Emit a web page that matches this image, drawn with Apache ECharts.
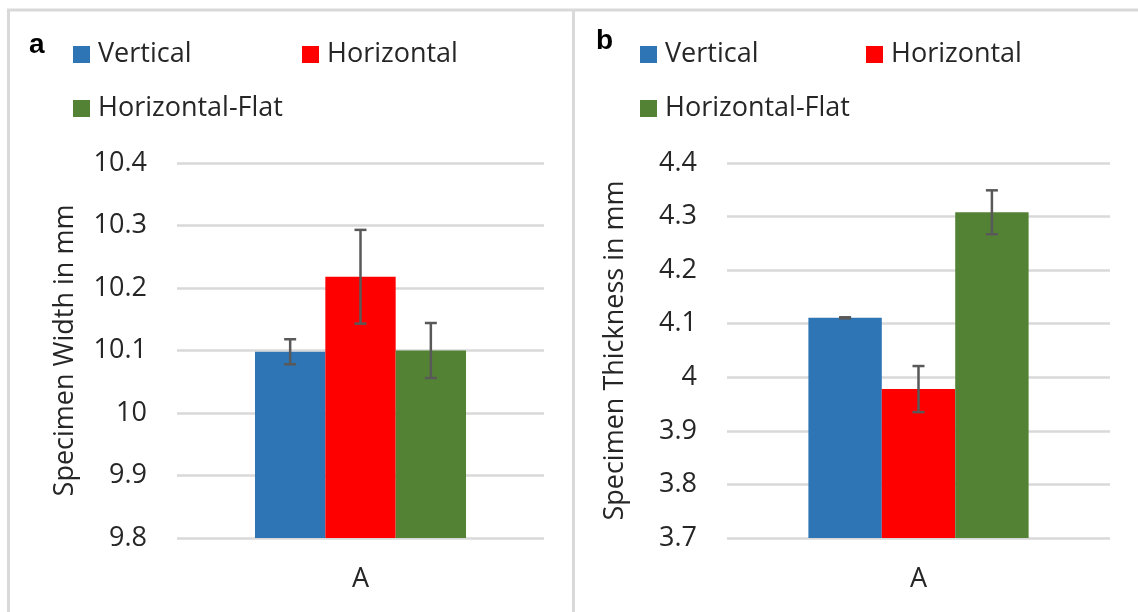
<!DOCTYPE html>
<html>
<head>
<meta charset="utf-8">
<script src="https://cdn.jsdelivr.net/npm/echarts@6/dist/echarts.min.js"></script>
<style>html,body{margin:0;padding:0;background:#fff;}#c{width:1138px;height:612px;}</style>
</head>
<body>
<div id="c"></div>
<script>
const categories = ['A'];
const seriesNames = ['Vertical', 'Horizontal', 'Horizontal-Flat'];
const colors = ['#2e75b6', '#ff0000', '#548235'];
const widthMean = [10.098, 10.218, 10.100];
const widthErr = [0.020, 0.075, 0.044];
const thickMean = [4.111, 3.978, 4.308];
const thickErr = [0.001, 0.043, 0.041];
const widthTicks = { min: 9.8, max: 10.4, interval: 0.1 };
const thickTicks = { min: 3.7, max: 4.4, interval: 0.1 };

const FONT = 'Open Sans';
const FS = 27;
const GAP = 0.425;
const chart = echarts.init(document.getElementById('c'));

function errSeries(gridIdx, means, errs) {
  return seriesNames.map((n, si) => ({
    type: 'custom',
    xAxisIndex: gridIdx, yAxisIndex: gridIdx,
    z: 10, silent: true,
    data: categories.map((c, ci) => [ci, means[si], errs[si]]),
    renderItem: function (params, api) {
      const ci = api.value(0), m = api.value(1), e = api.value(2);
      const band = api.size([1, 0])[0];
      const bw = band * (1 - GAP) / 3;
      const center = api.coord([ci, m])[0];
      const x = center + (si - 1) * bw;
      const yt = api.coord([ci, m + e])[1];
      const yb = api.coord([ci, m - e])[1];
      const hw = 6;
      const st = { stroke: '#595959', lineWidth: 2.5 };
      return { type: 'group', children: [
        { type: 'line', shape: { x1: x, y1: yt, x2: x, y2: yb }, style: st },
        { type: 'line', shape: { x1: x - hw, y1: yt, x2: x + hw, y2: yt }, style: st },
        { type: 'line', shape: { x1: x - hw, y1: yb, x2: x + hw, y2: yb }, style: st }
      ]};
    }
  }));
}

function barSeries(gridIdx, means) {
  return seriesNames.map((n, si) => ({
    name: n, type: 'bar',
    xAxisIndex: gridIdx, yAxisIndex: gridIdx,
    barGap: '0%', barCategoryGap: (GAP * 100) + '%',
    itemStyle: { color: colors[si] },
    data: categories.map(() => means[si])
  }));
}

function legendItem(name, left, top) {
  return {
    data: [name], left: left, top: top, padding: 0,
    itemWidth: 17, itemHeight: 17, icon: 'rect',
    textStyle: { fontFamily: FONT, fontSize: FS, color: '#262626', padding: [0, 0, 0, 3] },
    selectedMode: false
  };
}

function yAxis(gridIdx, t, name) {
  return {
    type: 'value', gridIndex: gridIdx,
    min: t.min, max: t.max, interval: t.interval,
    name: name, nameLocation: 'middle', nameGap: 98,
    nameTextStyle: { fontFamily: FONT, fontSize: FS, color: '#262626' },
    axisLine: { show: false }, axisTick: { show: false },
    axisLabel: { fontFamily: FONT, fontSize: FS, color: '#262626', margin: 30,
      formatter: v => String(Math.round(v * 10) / 10) },
    splitLine: { lineStyle: { color: '#d9d9d9', width: 2.5 } }
  };
}

function xAxis(gridIdx) {
  return {
    type: 'category', gridIndex: gridIdx, data: categories,
    axisLine: { show: false }, axisTick: { show: false },
    axisLabel: { fontFamily: FONT, fontSize: FS, color: '#262626', margin: 28 }
  };
}

const option = {
  animation: false,
  backgroundColor: '#ffffff',
  title: [
    { text: 'a', left: 29, top: 31, padding: 0, textStyle: { fontFamily: 'Liberation Sans', fontWeight: 'bold', fontSize: 28, color: '#000' } },
    { text: 'b', left: 596, top: 27, padding: 0, textStyle: { fontFamily: 'Liberation Sans', fontWeight: 'bold', fontSize: 28, color: '#000' } }
  ],
  legend: [
    legendItem('Vertical', 73, 41),
    legendItem('Horizontal', 302, 41),
    legendItem('Horizontal-Flat', 73, 95),
    legendItem('Vertical', 640, 41),
    legendItem('Horizontal', 866, 41),
    legendItem('Horizontal-Flat', 640, 95)
  ],
  grid: [
    { left: 177, right: 1138 - 544, top: 163, bottom: 612 - 538 },
    { left: 727, right: 1138 - 1110, top: 163, bottom: 612 - 538 }
  ],
  xAxis: [xAxis(0), xAxis(1)],
  yAxis: [yAxis(0, widthTicks, 'Specimen Width in mm'), yAxis(1, thickTicks, 'Specimen Thickness in mm')],
  graphic: [
    { type: 'line', shape: { x1: 7, y1: 10, x2: 1138, y2: 10 }, style: { stroke: '#d9d9d9', lineWidth: 3 } },
    { type: 'line', shape: { x1: 8.5, y1: 10, x2: 8.5, y2: 612 }, style: { stroke: '#d9d9d9', lineWidth: 3 } },
    { type: 'line', shape: { x1: 573.5, y1: 10, x2: 573.5, y2: 612 }, style: { stroke: '#d9d9d9', lineWidth: 3 } }
  ],
  series: [].concat(barSeries(0, widthMean), barSeries(1, thickMean), errSeries(0, widthMean, widthErr), errSeries(1, thickMean, thickErr))
};
chart.setOption(option);
</script>
</body>
</html>
